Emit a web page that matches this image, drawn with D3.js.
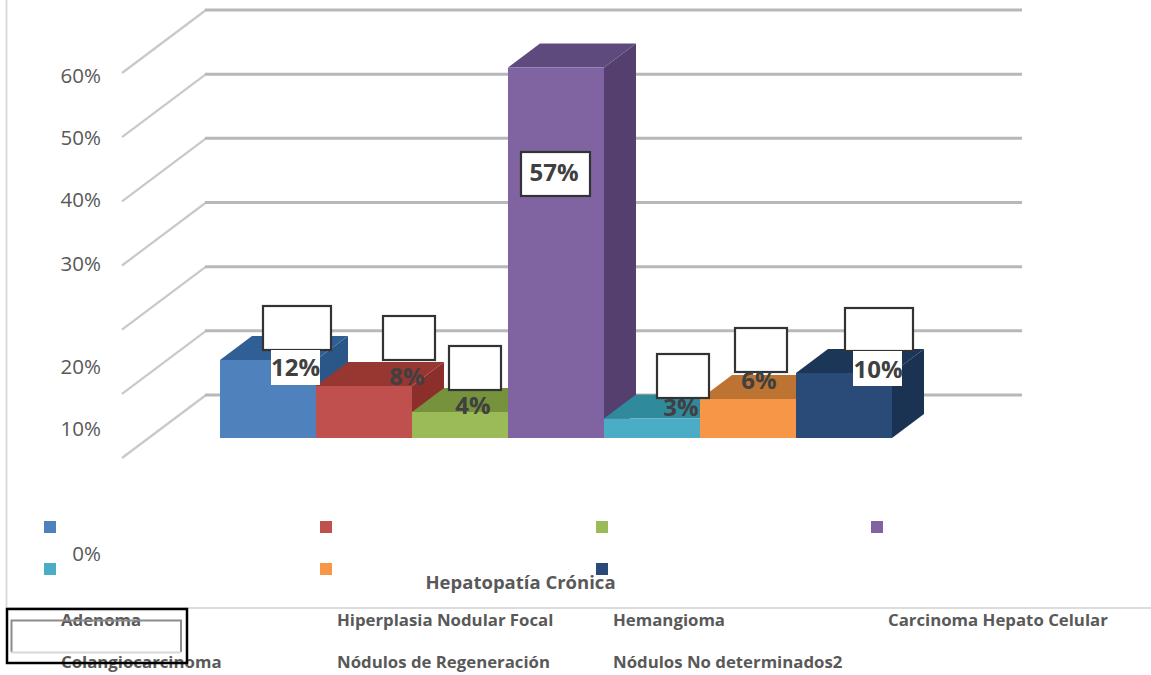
<!DOCTYPE html>
<html lang="es">
<head>
<meta charset="utf-8">
<title>Hepatopatía Crónica</title>
<script src="https://cdnjs.cloudflare.com/ajax/libs/d3/7.8.5/d3.min.js"></script>
<style>
  html, body { margin: 0; padding: 0; background: #fff; }
  svg { display: block; }
  text { font-family: "Open Sans", "Noto Sans", sans-serif; }
</style>
</head>
<body>
<svg id="chart" width="1151" height="675"></svg>
<script>
// Chart content
const categories = ["Adenoma", "Hiperplasia Nodular Focal", "Hemangioma", "Carcinoma Hepato Celular",
                    "Colangiocarcinoma", "Nódulos de Regeneración", "Nódulos No determinados2"];
const values = [12, 8, 4, 57, 3, 6, 10];
const gridTicks = [0, 10, 20, 30, 40, 50, 60];
const tickLabels = ["0%", "10%", "20%", "30%", "40%", "50%", "60%"];
const chartTitle = "Hepatopatía Crónica";

// Palette per series: front, top and side faces
const frontColors = ["#4f81bd", "#c0504d", "#9bbb59", "#8064a2", "#4bacc6", "#f79646", "#2a4b78"];
const topColors = ["#2f5f94", "#983632", "#76923c", "#5f4a7e", "#2f8a9c", "#bd7433", "#1c3658"];
const sideColors = ["#2b5688", "#8c2f2b", "#6b8636", "#543f6e", "#297d8e", "#ab6a2e", "#1b3352"];

// Hand-placed label layout: [box x, box y, box w, box h, text cx, text baseline, backing?]
const labelLayout = [
  [263, 306, 68, 44, 295.5, 376, true],
  [383, 316, 52, 44, 407, 385, false],
  [449, 346, 52, 44, 473, 414, false],
  [521, 152, 69, 44, 554, 181, false],
  [657, 354, 52, 44, 681, 416, false],
  [735, 328, 52, 44, 759, 389, false],
  [845, 308, 68, 43, 878, 378, true]
];
// Vertical position of each axis label, in the same order as tickLabels
const tickLabelY = [561, 436, 374, 271, 207, 145, 83];
const legendColumns = [44, 320, 596, 871];

const svg = d3.select("#chart");

// Depth of the 3D floor
const depthX = 32, depthY = -24;
const baseY = 438;

const yBack = d3.scaleLinear().domain([0, 60]).range([395, 10]);
const yFront = d3.scaleLinear().domain([0, 60]).range([458, 73]);
const yBar = d3.scaleLinear().domain([0, 60]).range([baseY, baseY - 390]);
const xBar = d3.scaleBand().domain(d3.range(values.length)).range([220, 892]).padding(0);

// Outer frame fragments
svg.append("path").attr("d", "M6.5,0V608H1151").attr("fill", "none").attr("stroke", "#dcdcdc").attr("stroke-width", 2);

// Side wall gridlines are a little lighter than those on the back wall
const grid = svg.append("g").attr("fill", "none");
grid.selectAll(".side").data(gridTicks).join("path").attr("class", "side")
  .attr("stroke", "#c9c9c9").attr("stroke-width", 2.2)
  .attr("d", d => `M122,${yFront(d)}L206,${yBack(d)}`);
grid.selectAll(".back").data(gridTicks).join("path").attr("class", "back")
  .attr("stroke", "#b8b8b8").attr("stroke-width", 3)
  .attr("d", d => `M205,${yBack(d)}H1022`);

// Axis labels
svg.append("g").selectAll("text").data(tickLabels).join("text")
  .attr("x", 101).attr("y", (d, i) => tickLabelY[i])
  .attr("text-anchor", "end")
  .attr("font-size", 20.5).attr("fill", "#595959")
  .text(d => d);

// Bars, left to right so that each one overlaps its neighbour's side face
const bars = svg.append("g").selectAll("g").data(values).join("g");
const poly = pts => "M" + pts.map(p => p.join(",")).join("L") + "Z";
bars.append("path").attr("fill", (d, i) => sideColors[i]).attr("d", (d, i) => {
  const x = xBar(i) + xBar.bandwidth(), t = yBar(d);
  return poly([[x, t], [x + depthX, t + depthY], [x + depthX, baseY + depthY], [x, baseY]]);
});
bars.append("path").attr("fill", (d, i) => topColors[i]).attr("d", (d, i) => {
  const x = xBar(i), w = xBar.bandwidth(), t = yBar(d);
  return poly([[x, t], [x + w, t], [x + w + depthX, t + depthY], [x + depthX, t + depthY]]);
});
bars.append("rect").attr("fill", (d, i) => frontColors[i])
  .attr("x", (d, i) => xBar(i)).attr("width", xBar.bandwidth())
  .attr("y", d => yBar(d)).attr("height", d => baseY - yBar(d));

// Value callouts
const labels = svg.append("g").selectAll("g").data(values).join("g");
labels.append("rect")
  .attr("x", (d, i) => labelLayout[i][0]).attr("y", (d, i) => labelLayout[i][1])
  .attr("width", (d, i) => labelLayout[i][2]).attr("height", (d, i) => labelLayout[i][3])
  .attr("fill", "#fff").attr("stroke", "#333").attr("stroke-width", 2.2);
labels.filter((d, i) => labelLayout[i][6]).append("rect")
  .attr("x", function () { return +d3.select(this.parentNode).select("rect").attr("x") + 8; })
  .attr("y", function () { const r = d3.select(this.parentNode).select("rect"); return +r.attr("y") + +r.attr("height"); })
  .attr("width", 49).attr("height", 35).attr("fill", "#fff");
labels.append("text")
  .attr("x", (d, i) => labelLayout[i][4]).attr("y", (d, i) => labelLayout[i][5])
  .attr("text-anchor", "middle").attr("font-size", 24).attr("font-weight", 700).attr("fill", "#404040")
  .text(d => d + "%");

// Legend swatches sit apart from their names
const cell = i => ({ col: i % 4, row: Math.floor(i / 4) });
svg.append("g").selectAll("rect").data(categories).join("rect")
  .attr("x", (d, i) => legendColumns[cell(i).col])
  .attr("y", (d, i) => 521 + cell(i).row * 42)
  .attr("width", 12).attr("height", 12)
  .attr("fill", (d, i) => frontColors[i]);

svg.append("text").attr("x", 520.5).attr("y", 589)
  .attr("text-anchor", "middle").attr("font-size", 18.5).attr("font-weight", 700).attr("fill", "#595959")
  .text(chartTitle);

svg.append("g").selectAll("text").data(categories).join("text")
  .attr("x", (d, i) => legendColumns[cell(i).col] + 17)
  .attr("y", (d, i) => 626 + cell(i).row * 42)
  .attr("font-size", 16.8).attr("font-weight", 700).attr("fill", "#595959")
  .text(d => d);

// Selection frame in the lower left corner
svg.append("rect").attr("x", 7).attr("y", 609).attr("width", 180).attr("height", 54)
  .attr("fill", "none").attr("stroke", "#000").attr("stroke-width", 2.5);
svg.append("path").attr("d", "M11.5,652V620.5H181V652").attr("fill", "none").attr("stroke", "#8c8c8c").attr("stroke-width", 2);
svg.append("path").attr("d", "M11,652.5H181").attr("fill", "none").attr("stroke", "#d8d8d8").attr("stroke-width", 2);
</script>
</body>
</html>
